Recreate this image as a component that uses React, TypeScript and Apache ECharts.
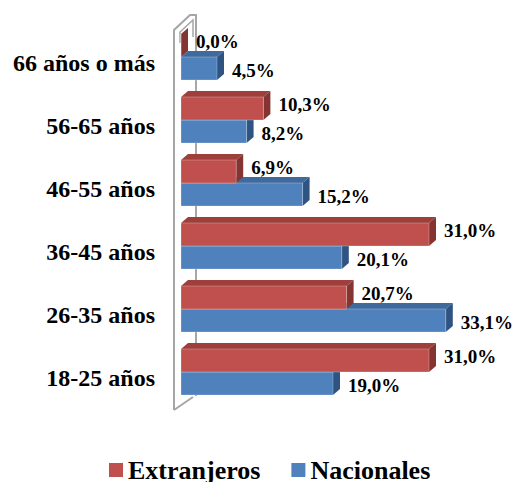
import React, { useEffect, useRef } from "react";
import * as echarts from "echarts";

const categories = ["18-25 años", "26-35 años", "36-45 años", "46-55 años", "56-65 años", "66 años o más"];
const extranjeros = [31.0, 20.7, 31.0, 6.9, 10.3, 0.0];
const nacionales = [19.0, 33.1, 20.1, 15.2, 8.2, 4.5];
const seriesNames = ["Extranjeros", "Nacionales"];

const GRID_LEFT = 181;
const GRID_TOP = 31;
const GRID_H = 378;
const GRID_W = 280;
const DX = 7;
const DY = 6;
const BAR_H = 23;
const FONT = "'Liberation Serif', 'Times New Roman', serif";

const fmt = (v: number) => v.toFixed(1).replace(".", ",") + "%";

function makeRender(kind: "red" | "blue") {
  const front = kind === "red" ? "#C0504D" : "#4F81BD";
  const topC = kind === "red" ? "#9E3F3C" : "#3F6A9E";
  const sideC = kind === "red" ? "#843532" : "#2F5481";
  return (params: any, api: any) => {
    const val = api.value(0);
    const idx = api.value(1);
    const p1 = api.coord([val, idx]);
    const p0 = api.coord([0, idx]);
    const x0 = p0[0];
    const x1 = p1[0];
    const b = p1[1] - 5.5;
    const top = kind === "red" ? b - BAR_H : b;
    const bot = top + BAR_H;
    const labelY = (top + bot) / 2 + (kind === "red" ? -4 : 2);
    return {
      type: "group",
      children: [
        {
          type: "polygon",
          shape: { points: [[x0, top], [x0 + DX, top - DY], [x1 + DX, top - DY], [x1, top]] },
          style: { fill: topC },
        },
        {
          type: "polygon",
          shape: { points: [[x1, top], [x1 + DX, top - DY], [x1 + DX, bot - DY], [x1, bot]] },
          style: { fill: sideC },
        },
        {
          type: "rect",
          shape: { x: x0, y: top, width: Math.max(0, x1 - x0), height: BAR_H },
          style: { fill: front, stroke: "rgba(255,255,255,0.25)", lineWidth: 1 },
        },
        {
          type: "text",
          style: {
            text: fmt(val),
            x: x1 + 15,
            y: labelY,
            verticalAlign: "middle",
            align: "left",
            fontSize: 19,
            fontWeight: "bold",
            fontFamily: FONT,
            fill: "#000",
          },
        },
      ],
    };
  };
}

export default function App() {
  const ref = useRef<HTMLDivElement>(null);
  useEffect(() => {
    document.body.style.margin = "0";
    const chart = echarts.init(ref.current!, null, { renderer: "svg" });
    const gBottom = GRID_TOP + GRID_H;
    const wx = GRID_LEFT - 7;
    const wall = "#A6A6A6";
    chart.setOption({
      animation: false,
      backgroundColor: "#fff",
      grid: { left: GRID_LEFT, top: GRID_TOP, width: GRID_W, height: GRID_H },
      xAxis: { type: "value", min: 0, max: 35, show: false },
      yAxis: {
        type: "category",
        data: categories,
        axisLine: { show: false },
        axisTick: { show: false },
        axisLabel: {
          margin: 26,
          color: "#000",
          fontSize: 24,
          fontWeight: "bold",
          fontFamily: FONT,
        },
      },
      legend: {
        data: seriesNames,
        left: 109,
        top: 457,
        padding: 0,
        icon: "rect",
        itemWidth: 14,
        itemHeight: 14,
        itemGap: 31,
        textStyle: { color: "#000", fontSize: 26, fontWeight: "bold", fontFamily: FONT },
      },
      graphic: [
        {
          type: "polyline",
          shape: {
            points: [
              [wx, gBottom + 1],
              [wx, GRID_TOP - 1],
              [wx + 16, GRID_TOP - 16],
              [wx + 22, GRID_TOP - 16],
              [wx + 22, gBottom - 13],
            ],
          },
          style: { stroke: wall, lineWidth: 2, fill: "none" },
        },
        {
          type: "line",
          shape: { x1: wx, y1: gBottom + 1, x2: wx + 19, y2: gBottom - 12 },
          style: { stroke: wall, lineWidth: 2 },
        },
        {
          type: "polyline",
          shape: {
            points: [
              [wx + 6, GRID_TOP + 12],
              [wx + 6, GRID_TOP + 1],
              [wx + 19, GRID_TOP - 11],
              [wx + 19, GRID_TOP + 6],
            ],
          },
          style: { stroke: wall, lineWidth: 1.5, fill: "none" },
        },
      ],
      series: [
        {
          name: "Nacionales",
          type: "custom",
          renderItem: makeRender("blue"),
          itemStyle: { color: "#4F81BD" },
          encode: { x: 0, y: 1 },
          data: nacionales.map((v, i) => [v, i]),
          z: 2,
        },
        {
          name: "Extranjeros",
          type: "custom",
          renderItem: makeRender("red"),
          itemStyle: { color: "#C0504D" },
          encode: { x: 0, y: 1 },
          data: extranjeros.map((v, i) => [v, i]),
          z: 3,
        },
      ],
    });
    return () => chart.dispose();
  }, []);
  return <div ref={ref} style={{ width: 512, height: 482 }} />;
}
